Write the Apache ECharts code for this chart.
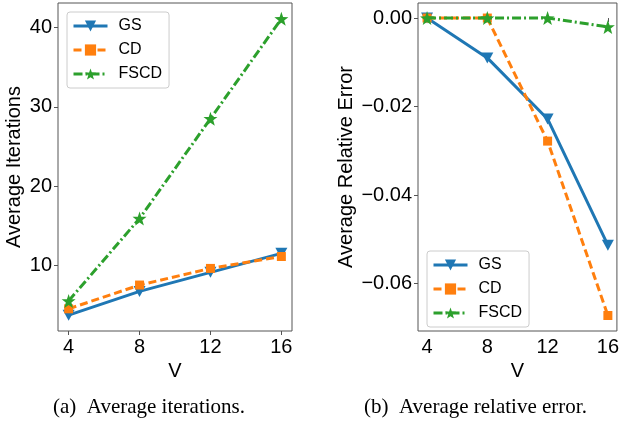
<!DOCTYPE html>
<html>
<head>
<meta charset="utf-8">
<script src="https://cdn.jsdelivr.net/npm/echarts@6/dist/echarts.min.js"></script>
<style>
	html,body{margin:0;padding:0;background:#fff;}
	#main{width:622px;height:426px;}
</style>
</head>
<body>
<div id="main"></div>
<script type="text/javascript">
	// 数据
	var v_list = [4, 8, 12, 16];
	var iter_gs = [3.7, 6.7, 9.1, 11.5];
	var iter_cd = [4.5, 7.5, 9.6, 11.1];
	var iter_fscd = [5.5, 15.9, 28.5, 41.1];
	var err_gs = [0, -0.009, -0.0228, -0.0513];
	var err_cd = [0, 0, -0.0278, -0.0672];
	var err_fscd = [0, 0, 0, -0.002];
	var iter_ticks = [10, 20, 30, 40];
	var err_ticks = [0, -0.02, -0.04, -0.06];

	var star = 'path://M0,-10L2.35,-3.24L9.51,-3.09L3.8,1.24L5.88,8.09L0,4.2L-5.88,8.09L-3.8,1.24L-9.51,-3.09L-2.35,-3.24Z';
	var font = 'Liberation Sans';
	var axis_color = '#555';
	var lw = 3;

	function pair(xs, ys){
		return xs.map(function(x, i){ return [x, ys[i]]; });
	}

	function mk_series(name, data, idx){
		var s = {
			name: name,
			type: 'line',
			xAxisIndex: idx,
			yAxisIndex: idx,
			data: data,
			showAllSymbol: true,
			clip: false,
			z: 2
		};
		if(name === 'GS'){
			s.symbol = 'triangle'; s.symbolRotate = 180; s.symbolSize = [12, 11];
			s.lineStyle = {color: '#1f77b4', width: lw, type: 'solid'};
			s.itemStyle = {color: '#1f77b4', borderWidth: 0};
		}else if(name === 'CD'){
			s.symbol = 'rect'; s.symbolSize = 9;
			s.lineStyle = {color: '#ff7f0e', width: lw, type: [8, 4]};
			s.itemStyle = {color: '#ff7f0e', borderWidth: 0};
			s.z = 3;
		}else{
			s.symbol = star; s.symbolSize = 14;
			s.lineStyle = {color: '#2ca02c', width: lw, type: [9, 3, 2, 3]};
			s.itemStyle = {color: '#2ca02c', borderWidth: 0};
			s.z = 4;
		}
		return s;
	}

	function mk_x(idx){
		return {
			type: 'value', gridIndex: idx, min: 3.4, max: 16.6,
			name: 'V', nameLocation: 'middle', nameGap: 30,
			nameTextStyle: {fontFamily: font, fontSize: 20, color: '#000'},
			axisLine: {show: false},
			splitLine: {show: false},
			axisTick: {show: true, length: 4, lineStyle: {color: axis_color}, customValues: v_list},
			axisLabel: {fontFamily: font, fontSize: 20, color: '#000', margin: 6, customValues: v_list}
		};
	}

	function mk_legend(left, top){
		return {
			data: ['GS', 'CD', 'FSCD'], orient: 'vertical', left: left, top: top,
			itemWidth: 34, itemHeight: 14, itemGap: 8, padding: [6, 7, 6, 5],
			backgroundColor: '#fff', borderColor: '#ccc', borderWidth: 1, borderRadius: 3,
			lineStyle: {width: lw},
			textStyle: {fontFamily: font, fontSize: 16, color: '#000', padding: [0, 0, 0, 6]}
		};
	}

	var option = {
		animation: false,
		backgroundColor: '#fff',
		grid: [
			{left: 58, top: 3, width: 234, height: 328, show: true, borderColor: axis_color, borderWidth: 1},
			{left: 418, top: 3, width: 203, height: 328, show: true, borderColor: axis_color, borderWidth: 1}
		],
		legend: [mk_legend(67, 12), mk_legend(427, 251)],
		xAxis: [mk_x(0), mk_x(1)],
		yAxis: [
			{
				type: 'value', gridIndex: 0, min: 1.7, max: 43.1,
				name: 'Average Iterations', nameLocation: 'middle', nameGap: 34,
				nameTextStyle: {fontFamily: font, fontSize: 20, color: '#000'},
				axisLine: {show: false}, splitLine: {show: false},
				axisTick: {show: true, length: 4, lineStyle: {color: axis_color}, customValues: iter_ticks},
				axisLabel: {fontFamily: font, fontSize: 20, color: '#000', margin: 6, customValues: iter_ticks}
			},
			{
				type: 'value', gridIndex: 1, min: -0.0707, max: 0.0034,
				name: 'Average Relative Error', nameLocation: 'middle', nameGap: 62,
				nameTextStyle: {fontFamily: font, fontSize: 20, color: '#000'},
				axisLine: {show: false}, splitLine: {show: false},
				axisTick: {show: true, length: 4, lineStyle: {color: axis_color}, customValues: err_ticks},
				axisLabel: {
					fontFamily: font, fontSize: 20, color: '#000', margin: 6, customValues: err_ticks,
					formatter: function(v){
						var s = Math.abs(v).toFixed(2);
						return v < -1e-9 ? '\u2212' + s : s;
					}
				}
			}
		],
		graphic: [
			{type: 'text', left: 53, top: 397, style: {text: '(a)  Average iterations.', fontFamily: 'Liberation Serif', fontSize: 21, fill: '#000'}},
			{type: 'text', left: 364, top: 397, style: {text: '(b)  Average relative error.', fontFamily: 'Liberation Serif', fontSize: 21, fill: '#000'}}
		],
		series: [
			mk_series('GS', pair(v_list, iter_gs), 0),
			mk_series('CD', pair(v_list, iter_cd), 0),
			mk_series('FSCD', pair(v_list, iter_fscd), 0),
			mk_series('GS', pair(v_list, err_gs), 1),
			mk_series('CD', pair(v_list, err_cd), 1),
			mk_series('FSCD', pair(v_list, err_fscd), 1)
		]
	};

	var myChart = echarts.init(document.getElementById('main'));
	myChart.setOption(option);
</script>
</body>
</html>
